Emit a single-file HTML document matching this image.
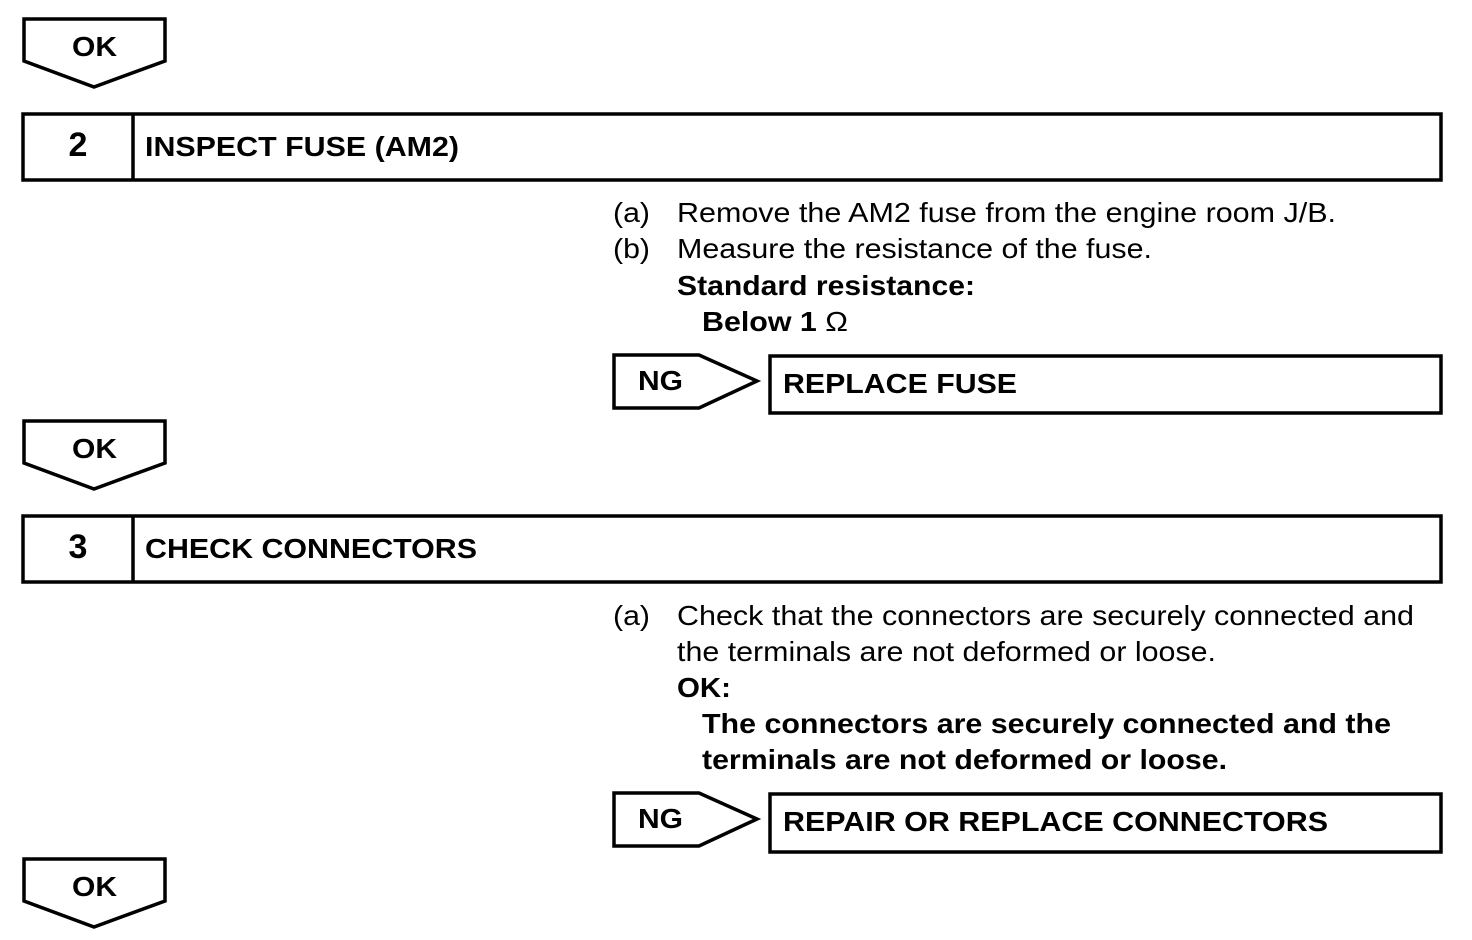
<!DOCTYPE html>
<html><head><meta charset="utf-8"><style>
html,body{margin:0;padding:0;background:#fff;}
svg{display:block;}
text{font-family:"Liberation Sans",Arial,sans-serif;fill:#000;}
.b{font-weight:bold;}
</style></head><body>
<svg width="1472" height="940" viewBox="0 0 1472 940" xmlns="http://www.w3.org/2000/svg">
<g fill="none" stroke="#000" stroke-width="3.5" stroke-linejoin="miter">
<polygon points="24,19 165,19 165,61 94,87 24,61"/>
<polygon points="24,421 165,421 165,463 94,489 24,463"/>
<polygon points="24,859 165,859 165,901 94,927 24,901"/>
<rect x="23" y="114" width="1418" height="66"/>
<line x1="133" y1="114" x2="133" y2="180"/>
<rect x="23" y="516" width="1418" height="66"/>
<line x1="133" y1="516" x2="133" y2="582"/>
<polygon points="614,355 699,355 757,381 699,408 614,408"/>
<rect x="770" y="356" width="671" height="57"/>
<polygon points="614,793 699,793 757,819 699,846 614,846"/>
<rect x="770" y="794" width="671" height="58"/>
</g>
<g font-size="28" lengthAdjust="spacingAndGlyphs">
<text class="b" x="72" y="56" textLength="45" lengthAdjust="spacingAndGlyphs">OK</text>
<text class="b" x="72" y="458" textLength="45" lengthAdjust="spacingAndGlyphs">OK</text>
<text class="b" x="72" y="896" textLength="45" lengthAdjust="spacingAndGlyphs">OK</text>
<text class="b" x="78" y="156" text-anchor="middle" font-size="34">2</text>
<text class="b" x="145" y="156" textLength="314" lengthAdjust="spacingAndGlyphs">INSPECT FUSE (AM2)</text>
<text class="b" x="78" y="558" text-anchor="middle" font-size="34">3</text>
<text class="b" x="145" y="558" textLength="332" lengthAdjust="spacingAndGlyphs">CHECK CONNECTORS</text>
<text x="613" y="222" textLength="37" lengthAdjust="spacingAndGlyphs">(a)</text>
<text x="677" y="222" textLength="659" lengthAdjust="spacingAndGlyphs">Remove the AM2 fuse from the engine room J/B.</text>
<text x="613" y="258" textLength="37" lengthAdjust="spacingAndGlyphs">(b)</text>
<text x="677" y="258" textLength="475" lengthAdjust="spacingAndGlyphs">Measure the resistance of the fuse.</text>
<text class="b" x="677" y="295" textLength="298" lengthAdjust="spacingAndGlyphs">Standard resistance:</text>
<text class="b" x="702" y="331" textLength="146" lengthAdjust="spacingAndGlyphs">Below 1 <tspan font-weight="normal">Ω</tspan></text>
<text class="b" x="638" y="390" textLength="45" lengthAdjust="spacingAndGlyphs">NG</text>
<text class="b" x="783" y="393" textLength="234" lengthAdjust="spacingAndGlyphs">REPLACE FUSE</text>
<text x="613" y="625" textLength="37" lengthAdjust="spacingAndGlyphs">(a)</text>
<text x="677" y="625" textLength="737" lengthAdjust="spacingAndGlyphs">Check that the connectors are securely connected and</text>
<text x="677" y="661" textLength="539" lengthAdjust="spacingAndGlyphs">the terminals are not deformed or loose.</text>
<text class="b" x="677" y="697" textLength="54" lengthAdjust="spacingAndGlyphs">OK:</text>
<text class="b" x="702" y="733" textLength="689" lengthAdjust="spacingAndGlyphs">The connectors are securely connected and the</text>
<text class="b" x="702" y="769" textLength="525" lengthAdjust="spacingAndGlyphs">terminals are not deformed or loose.</text>
<text class="b" x="638" y="828" textLength="45" lengthAdjust="spacingAndGlyphs">NG</text>
<text class="b" x="783" y="831" textLength="545" lengthAdjust="spacingAndGlyphs">REPAIR OR REPLACE CONNECTORS</text>
</g>
</svg>
</body></html>
